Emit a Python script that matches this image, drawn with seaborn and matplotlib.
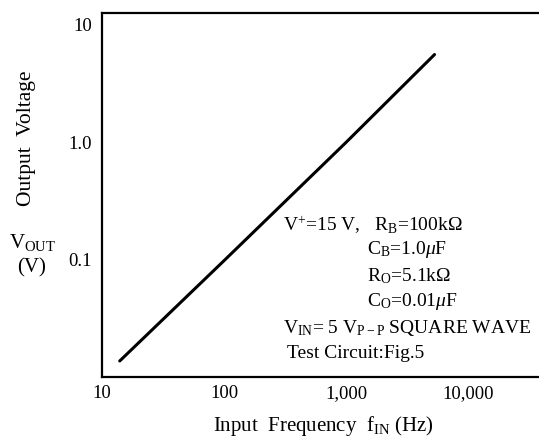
import matplotlib
matplotlib.use("Agg")
import matplotlib.pyplot as plt
import seaborn as sns
import pandas as pd

# data
freq_hz = [14, 100, 1000, 5300]
vout_v = [0.0137, 0.098, 1.0, 5.6]

x_ticks = [10, 100, 1000, 10000]
x_tick_labels = ["10", "100", "1,000", "10,000"]
y_ticks = [0.1, 1.0, 10]
y_tick_labels = ["0.1", "1.0", "10"]

df = pd.DataFrame({"freq": freq_hz, "vout": vout_v})

sns.set_theme(style="white")
plt.rcParams["font.family"] = ["Liberation Serif", "DejaVu Serif"]
plt.rcParams["text.color"] = "black"
plt.rcParams["mathtext.fontset"] = "custom"
plt.rcParams["mathtext.rm"] = "Liberation Serif"
plt.rcParams["mathtext.it"] = "Liberation Serif:italic"

fig = plt.figure(figsize=(5.39, 4.42), dpi=100)
ax = fig.add_axes([0.189, 0.147, 0.811, 0.824])
ax.set_xscale("log")
ax.set_yscale("log")

sns.lineplot(data=df, x="freq", y="vout", ax=ax, color="black", linewidth=2.2)

ax.set_xlim(10, 38000)
ax.set_ylim(0.01, 12.7)
ax.minorticks_off()
ax.set_xticks(x_ticks)
ax.set_xticklabels(x_tick_labels)
ax.set_yticks(y_ticks)
ax.set_yticklabels(y_tick_labels)
ax.tick_params(axis="x", direction="in", length=5, width=1.2, pad=6,
               labelsize=13.5, colors="black")
ax.tick_params(axis="y", direction="in", length=8, width=1.2, pad=7,
               labelsize=13.5, colors="black")
ax.spines["right"].set_visible(False)
for s in ["left", "bottom", "top"]:
    ax.spines[s].set_linewidth(1.6)
    ax.spines[s].set_color("black")

ax.set_xlabel("")
ax.set_ylabel("")

# axis titles
fig.text(27 / 539, 1 - 138 / 442, "Output  Voltage", rotation=90,
         ha="center", va="center", fontsize=15.5)
fig.text(33 / 539, 1 - 242 / 442, r"V$_{\rm OUT}$", ha="center", va="center",
         fontsize=15)
fig.text(32 / 539, 1 - 268 / 442, "(V)", ha="center", va="center", fontsize=15)
fig.text(323 / 539, 1 - 426 / 442, r"Input  Frequency  f$_{\rm IN}$ (Hz)",
         ha="center", va="center", fontsize=15)

# test conditions
notes = [
    (283, 225, r"V$^{+}$=15 V,   R$_{\rm B}$=100kΩ"),
    (367, 250, r"C$_{\rm B}$=1.0$\mu$F"),
    (367, 276, r"R$_{\rm O}$=5.1kΩ"),
    (367, 302, r"C$_{\rm O}$=0.01$\mu$F"),
    (283, 328, r"V$_{\rm IN}$= 5 V$_{\rm P-P}$ SQUARE WAVE"),
    (287, 353, "Test Circuit:Fig.5"),
]
for px, py, txt in notes:
    fig.text(px / 539, 1 - py / 442, txt, ha="left", va="center", fontsize=14)

fig.savefig("out.png", dpi=100)
